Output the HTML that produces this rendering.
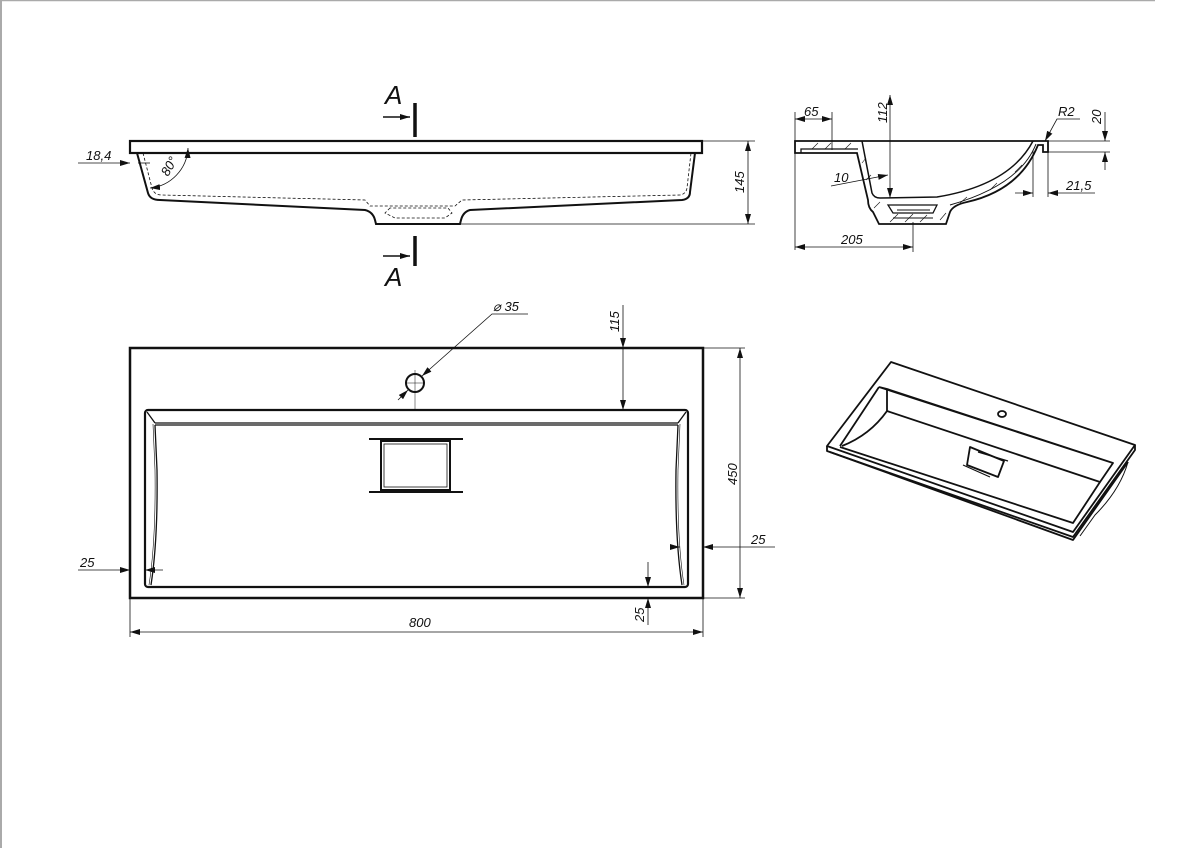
<!DOCTYPE html>
<html><head><meta charset="utf-8"><style>
html,body{margin:0;padding:0;background:#fff}
svg{display:block}
text{font-family:"Liberation Sans",sans-serif;font-style:italic;fill:#111}
</style></head><body>
<svg width="1200" height="848" viewBox="0 0 1200 848" xmlns="http://www.w3.org/2000/svg">
<defs>
<marker id="a" viewBox="0 0 10 6" refX="10" refY="3" markerWidth="10" markerHeight="6" orient="auto-start-reverse" markerUnits="userSpaceOnUse"><path d="M0,0 L10,3 L0,6 z" fill="#111"/></marker>
</defs>
<line x1="0" y1="0.5" x2="1155" y2="0.5" stroke="#aaa" stroke-width="1.5"/>
<line x1="1" y1="0" x2="1" y2="848" stroke="#aaa" stroke-width="2"/>

<!-- FRONT VIEW -->
<g fill="none" stroke="#111">
<rect x="130" y="141" width="572" height="12" stroke-width="2.2"/>
<path d="M137,153 L148,193 Q150,200 160,200 L365,210 Q373,212 375,220 L376,224 L460,224 L461,220 Q463,212 470,210 L682,200 Q690,199 690,192 L695,153" stroke-width="2"/>
<path d="M143,153 L152,188 Q154,195 162,195 L365,200 L370,206 L455,206 L462,200 L680,195 Q686,194 687,188 L691,153" stroke-width="0.8" stroke-dasharray="3,2"/>
<path d="M390,208 L385,213 L395,218 L445,218 L452,213 L448,208 Z" stroke-width="0.8" stroke-dasharray="3,2"/>
<line x1="460" y1="224" x2="755" y2="224" stroke-width="0.8"/>
<line x1="702" y1="141" x2="755" y2="141" stroke-width="0.8"/>
<line x1="748" y1="141" x2="748" y2="224" stroke-width="0.8" marker-start="url(#a)" marker-end="url(#a)"/>
<line x1="78" y1="163" x2="130" y2="163" stroke-width="0.8" marker-end="url(#a)"/>
<line x1="138" y1="163" x2="150" y2="163" stroke-width="0.8"/>
<path d="M188,148 A42,42 0 0 1 150,188" stroke-width="0.8" marker-start="url(#a)" marker-end="url(#a)"/>
<line x1="415" y1="103" x2="415" y2="137" stroke-width="3.5"/>
<line x1="383" y1="117" x2="410" y2="117" stroke-width="1.5" marker-end="url(#a)"/>
<line x1="415" y1="236" x2="415" y2="266" stroke-width="3.5"/>
<line x1="383" y1="256" x2="410" y2="256" stroke-width="1.5" marker-end="url(#a)"/>
</g>
<text x="385" y="104" font-size="26">A</text>
<text x="385" y="286" font-size="26">A</text>
<text x="86" y="160" font-size="13">18,4</text>
<text x="0" y="0" font-size="13" transform="translate(168,177) rotate(-60)">80°</text>
<text x="0" y="0" font-size="13" transform="translate(744,193) rotate(-90)">145</text>

<!-- SECTION VIEW -->
<g fill="none" stroke="#111">
<path d="M795,141 L1048,141 L1048,152 L1043,152 L1043,145 L1038,145 Q1020,190 967,202 Q953,205 950,212 L946,224 L879,224 L873,212 Q868,208 868,200 L857,153 L795,153 Z" stroke-width="1.8"/>
<path d="M801,153 L801,149 L858,149" stroke-width="1.3"/>
<path d="M862,141 L872,193 Q874,198 880,198 L937,197 Q1010,185 1033,141" stroke-width="1.5"/>
<path d="M950,205 Q1020,185 1036,144" stroke-width="1"/>
<path d="M888,205 L937,205 L933,213 L893,213 Z" stroke-width="1.3"/>
<path d="M893,218 L933,218 M897,210 L930,210" stroke-width="1"/>
<g stroke-width="0.6"><path d="M812,149 L818,143 M825,149 L831,143 M845,149 L851,143 M862,163 L866,158 M866,180 L871,175 M874,208 L880,202 M890,222 L898,214 M905,222 L913,214 M920,222 L927,215 M940,220 L946,213 M960,203 L967,197 M990,190 L997,183 M1015,172 L1022,165"/></g>
<line x1="795" y1="112" x2="795" y2="250" stroke-width="0.8"/>
<line x1="832" y1="112" x2="832" y2="150" stroke-width="0.8"/>
<line x1="795" y1="119" x2="832" y2="119" stroke-width="0.8" marker-start="url(#a)" marker-end="url(#a)"/>
<line x1="890" y1="95" x2="890" y2="198" stroke-width="0.8" marker-start="url(#a)" marker-end="url(#a)"/>
<path d="M1045,141 L1057,119 L1080,119" stroke-width="0.8" marker-start="url(#a)"/>
<line x1="1048" y1="141" x2="1110" y2="141" stroke-width="0.8"/>
<line x1="1048" y1="152" x2="1110" y2="152" stroke-width="0.8"/>
<line x1="1105" y1="112" x2="1105" y2="141" stroke-width="0.8" marker-end="url(#a)"/>
<line x1="1105" y1="152" x2="1105" y2="170" stroke-width="0.8" marker-start="url(#a)"/>
<line x1="1033" y1="150" x2="1033" y2="197" stroke-width="0.8"/>
<line x1="1048" y1="152" x2="1048" y2="197" stroke-width="0.8"/>
<line x1="1015" y1="193" x2="1033" y2="193" stroke-width="0.8" marker-end="url(#a)"/>
<line x1="1048" y1="193" x2="1095" y2="193" stroke-width="0.8" marker-start="url(#a)"/>
<line x1="831" y1="186" x2="888" y2="175" stroke-width="0.8" marker-end="url(#a)"/>
<line x1="913" y1="222" x2="913" y2="252" stroke-width="0.8"/>
<line x1="795" y1="247" x2="913" y2="247" stroke-width="0.8" marker-start="url(#a)" marker-end="url(#a)"/>
</g>
<text x="804" y="116" font-size="13">65</text>
<text x="0" y="0" font-size="13" transform="translate(887,123) rotate(-90)">112</text>
<text x="1058" y="116" font-size="13">R2</text>
<text x="0" y="0" font-size="13" transform="translate(1101,124) rotate(-90)">20</text>
<text x="1066" y="190" font-size="13">21,5</text>
<text x="834" y="182" font-size="13">10</text>
<text x="841" y="244" font-size="13">205</text>

<!-- PLAN VIEW -->
<g fill="none" stroke="#111">
<rect x="130" y="348" width="573" height="250" stroke-width="2.5"/>
<rect x="145" y="410" width="543" height="177" rx="3" stroke-width="2.2"/>
<path d="M155,423 L678,423 M155,425 L678,425" stroke-width="1.3"/>
<path d="M147,412 L155,423 M686,412 L678,423 M155,425 L157,470 Q158,540 151,585 M678,425 L676,470 Q675,540 682,585" stroke-width="1.3"/>
<path d="M153,424 L155,470 Q156,540 149,585 M680,424 L678,470 Q677,540 684,585" stroke-width="0.6"/>
<rect x="381" y="441" width="69" height="49" stroke-width="2"/>
<rect x="384" y="444" width="63" height="43" stroke-width="0.8"/>
<path d="M369,439 L463,439 M369,492 L463,492" stroke-width="2"/>
<line x1="415" y1="370" x2="415" y2="410" stroke-width="0.5"/>
<circle cx="415" cy="383" r="9" stroke-width="2"/>
<line x1="406" y1="383" x2="424" y2="383" stroke-width="0.5"/>
<path d="M528,314 L492,314 L422,376" stroke-width="0.8" marker-end="url(#a)"/>
<line x1="408" y1="390" x2="398" y2="400" stroke-width="0.8" marker-start="url(#a)"/>
<line x1="623" y1="305" x2="623" y2="348" stroke-width="0.8" marker-end="url(#a)"/>
<line x1="623" y1="348" x2="623" y2="410" stroke-width="0.8" marker-end="url(#a)"/>
<line x1="703" y1="348" x2="745" y2="348" stroke-width="0.8"/>
<line x1="703" y1="598" x2="745" y2="598" stroke-width="0.8"/>
<line x1="740" y1="348" x2="740" y2="598" stroke-width="0.8" marker-start="url(#a)" marker-end="url(#a)"/>
<line x1="670" y1="547" x2="680" y2="547" stroke-width="0.8" marker-end="url(#a)"/>
<line x1="775" y1="547" x2="703" y2="547" stroke-width="0.8" marker-end="url(#a)"/>
<line x1="78" y1="570" x2="130" y2="570" stroke-width="0.8" marker-end="url(#a)"/>
<line x1="163" y1="570" x2="145" y2="570" stroke-width="0.8" marker-end="url(#a)"/>
<line x1="648" y1="562" x2="648" y2="587" stroke-width="0.8" marker-end="url(#a)"/>
<line x1="648" y1="625" x2="648" y2="598" stroke-width="0.8" marker-end="url(#a)"/>
<line x1="130" y1="598" x2="130" y2="637" stroke-width="0.8"/>
<line x1="703" y1="598" x2="703" y2="637" stroke-width="0.8"/>
<line x1="130" y1="632" x2="703" y2="632" stroke-width="0.8" marker-start="url(#a)" marker-end="url(#a)"/>
</g>
<text x="493" y="311" font-size="13">⌀ 35</text>
<text x="0" y="0" font-size="13" transform="translate(619,332) rotate(-90)">115</text>
<text x="0" y="0" font-size="13" transform="translate(737,485) rotate(-90)">450</text>
<text x="751" y="544" font-size="13">25</text>
<text x="80" y="567" font-size="13">25</text>
<text x="0" y="0" font-size="13" transform="translate(644,622) rotate(-90)">25</text>
<text x="409" y="627" font-size="13">800</text>

<!-- ISO VIEW -->
<g fill="none" stroke="#111" stroke-width="1.8" stroke-linejoin="round">
<path d="M891,362 L1135,445 L1073,532 L827,446 Z"/>
<path d="M827,446 L827,451 L1073,537 L1135,450 L1135,445"/>
<path d="M830,452 L1073,540 L1128,462"/>
<path d="M879,387 L1113,463 L1100,482 M879,387 L887,389 L1113,463"/>
<path d="M879,387 L840,446 M887,389 L887,411 L1100,482 L1073,523 L840,447"/>
<path d="M887,411 Q870,435 842,446"/>
<path d="M970,447 L1004,461 L998,477 L967,465 Z"/>
<path d="M963,465 L990,477 M978,452 L1008,461" stroke-width="1.2"/>
<ellipse cx="1002" cy="414" rx="4" ry="3"/>
<path d="M1128,462 Q1120,490 1095,515 L1080,536" stroke-width="1"/>
</g>
</svg>
</body></html>
